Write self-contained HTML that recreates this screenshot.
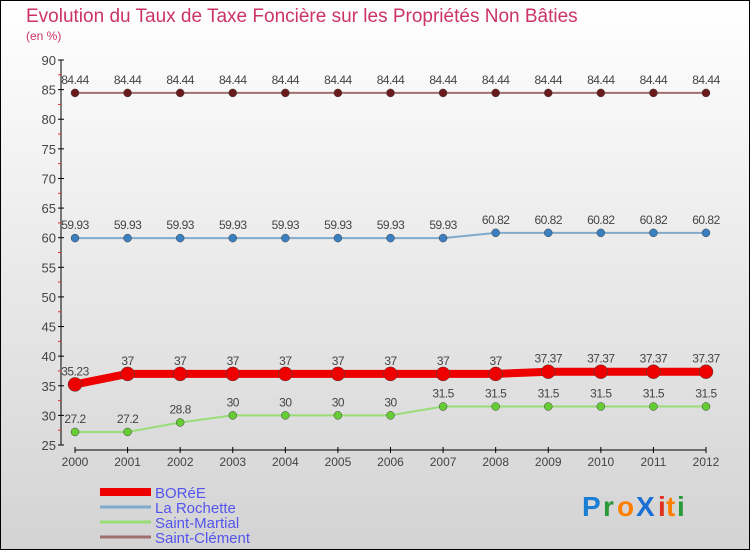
<!DOCTYPE html>
<html><head><meta charset="utf-8"><style>
body{margin:0;width:750px;height:550px;overflow:hidden;font-family:"Liberation Sans",sans-serif}
</style></head><body>
<svg id="c" width="750" height="550" xmlns="http://www.w3.org/2000/svg">
<defs><linearGradient id="bg" x1="0" y1="0" x2="0" y2="1"><stop offset="0" stop-color="#ffffff"/><stop offset="1" stop-color="#d3d3d3"/></linearGradient></defs>
<rect x="0.5" y="0.5" width="749" height="549" fill="url(#bg)" stroke="#000"/>
<text x="26" y="22" font-size="19" fill="#cc3366">Evolution du Taux de Taxe Foncière sur les Propriétés Non Bâties</text>
<text x="26" y="40" font-size="12" fill="#cc3366">(en %)</text>
<g id="axes"></g><g id="series"></g><g id="legend"></g>
<g font-size="28" font-weight="bold">
<text x="582" y="516" fill="#1a7fd4">P</text><text x="603" y="516" fill="#2a9a3a">r</text><text x="617" y="516" fill="#ff8000">o</text><text x="636" y="516" fill="#1a6fd4">X</text><text x="658" y="516" fill="#e03020">i</text><text x="666" y="516" fill="#ff8000">t</text><text x="677" y="516" fill="#2a9a3a">i</text>
</g>
</svg>
<script>
const years=["2000","2001","2002","2003","2004","2005","2006","2007","2008","2009","2010","2011","2012"];
const yTicks=[25,30,35,40,45,50,55,60,65,70,75,80,85,90];
const boree=[35.23,37,37,37,37,37,37,37,37,37.37,37.37,37.37,37.37];
const rochette=[59.93,59.93,59.93,59.93,59.93,59.93,59.93,59.93,60.82,60.82,60.82,60.82,60.82];
const martial=[27.2,27.2,28.8,30,30,30,30,31.5,31.5,31.5,31.5,31.5,31.5];
const clement=[84.44,84.44,84.44,84.44,84.44,84.44,84.44,84.44,84.44,84.44,84.44,84.44,84.44];
const names=["BORéE","La Rochette","Saint-Martial","Saint-Clément"];
const NS="http://www.w3.org/2000/svg";
const X=i=>75+i*(706-75)/(years.length-1);
const Y=v=>445-(v-25)*(445-60)/65;
function mk(tag,attrs,parent,txt){const e=document.createElementNS(NS,tag);for(const k in attrs)e.setAttribute(k,attrs[k]);if(txt!==undefined)e.textContent=txt;parent.appendChild(e);return e;}
const ax=document.getElementById('axes');
let e=mk('line',{x1:61,y1:60,x2:61,y2:445,stroke:'#000'},ax);


yTicks.forEach(t=>{
 mk('line',{x1:58,x2:64,y1:Y(t),y2:Y(t),stroke:'#000'},ax);
 if(t<90)mk('line',{x1:58,x2:61,y1:Y(t+2.5),y2:Y(t+2.5),stroke:'#e03030'},ax);
 const l=mk('text',{x:56,y:Y(t)+5,'text-anchor':'end','font-size':13,fill:'#444'},ax,t);
 
 
});
e=mk('line',{x1:75,y1:450,x2:706,y2:450,stroke:'#000'},ax);


years.forEach((y,i)=>{
 mk('line',{x1:X(i),x2:X(i),y1:447,y2:453,stroke:'#000'},ax);
 const l=mk('text',{x:X(i),y:466,'text-anchor':'middle','font-size':12,fill:'#444'},ax,y);
 
 
});
const sg=document.getElementById('series');
const defs=[[clement,'#a07070','#6a1a1a',2,4,'saint-clement'],[rochette,'#80aacc','#3a80c0',2,4,'la-rochette'],[martial,'#99dd77','#66cc33',2,4,'saint-martial'],[boree,'#ee0000','#ee0000',8,7,'boree']];
defs.forEach(([d,lc,pc,w,r,n])=>{
 const p=mk('polyline',{points:d.map((v,i)=>X(i)+','+Y(v)).join(' '),fill:'none',stroke:lc,'stroke-width':w},sg);
 
 
 d.forEach((v,i)=>{
  const c=mk('circle',{cx:X(i),cy:Y(v),r:r,fill:pc,stroke:'#444','stroke-width':0.5},sg);
  
  
  const t=mk('text',{x:X(i),y:Y(v)-9,'text-anchor':'middle','font-size':12,fill:'#444','letter-spacing':'-0.5'},sg,String(v));
  
  
 });
});
const lg=document.getElementById('legend');
const lcol=['#ee0000','#80aacc','#99dd77','#a07070'],lw=[8,3,3,3];
names.forEach((n,i)=>{
 const y=492+i*15;
 mk('line',{x1:100,x2:151,y1:y,y2:y,stroke:lcol[i],'stroke-width':lw[i]},lg);
 const t=mk('text',{x:155,y:y+6,'font-size':15,fill:'#5555ee'},lg,n);
 
 
});
</script>
</body></html>
